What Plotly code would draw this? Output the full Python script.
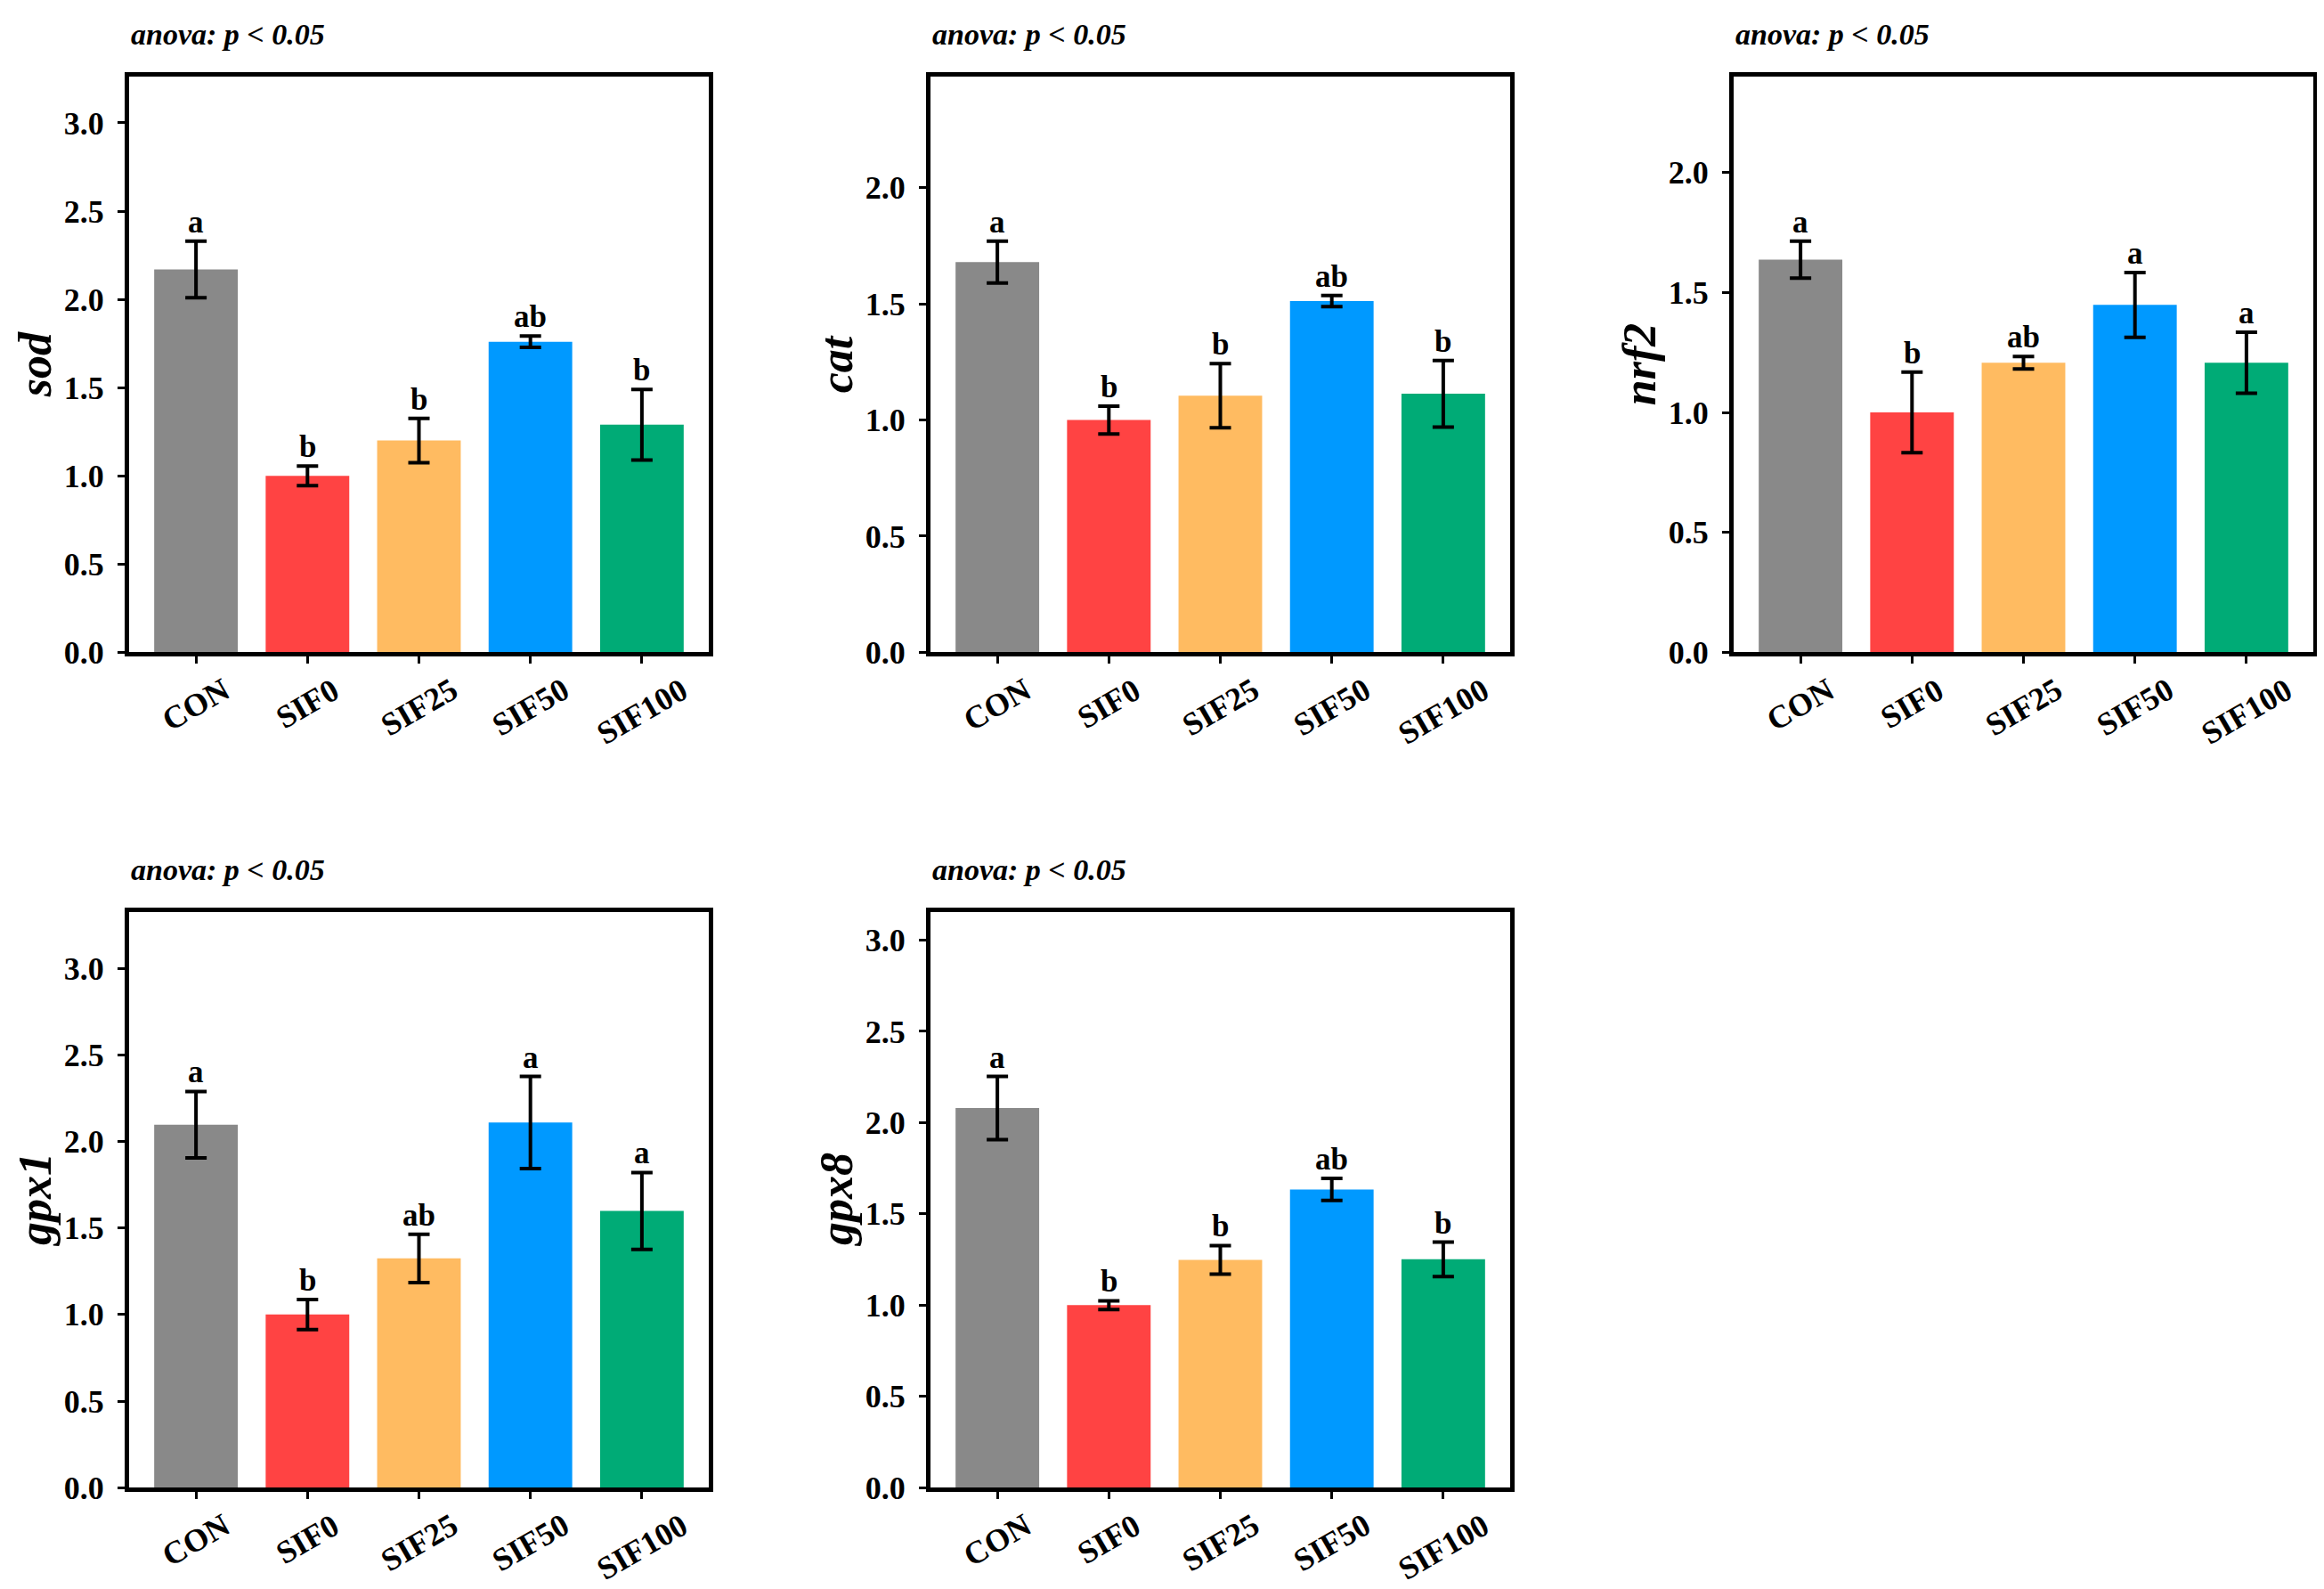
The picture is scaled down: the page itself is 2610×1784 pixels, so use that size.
import plotly.graph_objects as go

# ---- data ----
groups = ["CON", "SIF0", "SIF25", "SIF50", "SIF100"]
bar_colors = ["#898989", "#FF4343", "#FFBB61", "#0099FF", "#00AB76"]

genes = ["sod", "cat", "nrf2", "gpx1", "gpx8"]

sod_mean = [2.17, 1.00, 1.20, 1.76, 1.29]
sod_err = [0.16, 0.055, 0.126, 0.032, 0.20]
sod_sig = ["a", "b", "b", "ab", "b"]

cat_mean = [1.68, 1.00, 1.105, 1.512, 1.113]
cat_err = [0.09, 0.06, 0.138, 0.024, 0.143]
cat_sig = ["a", "b", "b", "ab", "b"]

nrf2_mean = [1.637, 1.00, 1.207, 1.448, 1.207]
nrf2_err = [0.077, 0.168, 0.026, 0.135, 0.127]
nrf2_sig = ["a", "b", "ab", "a", "a"]

gpx1_mean = [2.096, 1.00, 1.324, 2.109, 1.598]
gpx1_err = [0.192, 0.087, 0.14, 0.266, 0.222]
gpx1_sig = ["a", "b", "ab", "a", "a"]

gpx8_mean = [2.08, 1.00, 1.248, 1.634, 1.251]
gpx8_err = [0.173, 0.024, 0.078, 0.06, 0.094]
gpx8_sig = ["a", "b", "b", "ab", "b"]

anova_text = "anova: p &lt; 0.05"

means = [sod_mean, cat_mean, nrf2_mean, gpx1_mean, gpx8_mean]
errs = [sod_err, cat_err, nrf2_err, gpx1_err, gpx8_err]
sigs = [sod_sig, cat_sig, nrf2_sig, gpx1_sig, gpx8_sig]

# ---- layout geometry (pixels) ----
W, H = 2610, 1784
col_px = [(137, 788), (1037, 1688), (1939, 2590)]
row_px = [(79, 733), (1028, 1682)]
positions = [(0, 0), (0, 1), (0, 2), (1, 0), (1, 1)]

FONT = "Liberation Serif, Times New Roman, serif"

fig = go.Figure()
layout = dict(
    width=W, height=H,
    margin=dict(l=0, r=0, t=0, b=0),
    paper_bgcolor="white", plot_bgcolor="white",
    showlegend=False,
    font=dict(family=FONT, color="black"),
)
annotations = []

for i, gene in enumerate(genes):
    r, c = positions[i]
    n = i + 1
    xa = "x" if n == 1 else f"x{n}"
    ya = "y" if n == 1 else f"y{n}"
    x0, x1 = col_px[c]
    y0, y1 = row_px[r]
    pw = x1 - x0
    ph = y1 - y0

    fig.add_trace(go.Bar(
        x=list(range(len(groups))), y=means[i],
        marker=dict(color=bar_colors, line=dict(width=0)),
        width=0.75,
        error_y=dict(type="data", array=errs[i], visible=True,
                     color="black", thickness=4, width=12),
        xaxis=xa, yaxis=ya,
    ))

    ymax = 1.4 * max(m + e for m, e in zip(means[i], errs[i]))

    layout["xaxis" if n == 1 else f"xaxis{n}"] = dict(
        domain=[x0 / W, x1 / W], anchor=ya,
        range=[-0.6, len(groups) - 0.4],
        tickmode="array", tickvals=list(range(len(groups))), ticktext=groups,
        showticklabels=False,
        ticks="outside", ticklen=8, tickwidth=2.5, tickcolor="black",
        showline=True, linecolor="black", linewidth=5, mirror=True,
        showgrid=False, zeroline=False, fixedrange=True,
    )
    layout["yaxis" if n == 1 else f"yaxis{n}"] = dict(
        domain=[1 - y1 / H, 1 - y0 / H], anchor=xa,
        range=[0, ymax],
        dtick=0.5, tick0=0, tickformat=".1f",
        ticks="outside", ticklen=8, tickwidth=2.5, tickcolor="black",
        tickfont=dict(family=FONT, size=36, color="black", weight="bold"),
        ticklabelstandoff=8,
        showline=True, linecolor="black", linewidth=5, mirror=True,
        showgrid=False, zeroline=False, fixedrange=True,
    )

    xdom = f"{xa} domain"
    ydom = f"{ya} domain"

    # anova title
    annotations.append(dict(
        text=f"<b><i>{anova_text}</i></b>", xref=xdom, yref=ydom,
        x=0, y=1 + 48 / ph, xanchor="left", yanchor="middle",
        showarrow=False, font=dict(family=FONT, size=34, color="black"),
    ))
    # y-axis title
    annotations.append(dict(
        text=f"<b><i>{gene}</i></b>", xref=xdom, yref=ydom,
        x=-106 / pw, y=0.5, xanchor="center", yanchor="middle",
        textangle=-90, showarrow=False,
        font=dict(family=FONT, size=52, color="black"),
    ))
    # x tick labels (rotated, top of rotated box hangs below the axis)
    for k, g in enumerate(groups):
        annotations.append(dict(
            text=f"<b>{g}</b>", xref=xa, yref=ydom,
            x=k, y=-19 / ph, xanchor="center", yanchor="top",
            textangle=-30, showarrow=False,
            font=dict(family=FONT, size=36, color="black"),
        ))
    # significance letters
    for k, s in enumerate(sigs[i]):
        annotations.append(dict(
            text=f"<b>{s}</b>", xref=xa, yref=ya,
            x=k, y=means[i][k] + errs[i][k], xanchor="center", yanchor="bottom",
            yshift=0, showarrow=False,
            font=dict(family=FONT, size=35, color="black"),
        ))

layout["annotations"] = annotations
fig.update_layout(**layout)
fig.write_html("out.html")
